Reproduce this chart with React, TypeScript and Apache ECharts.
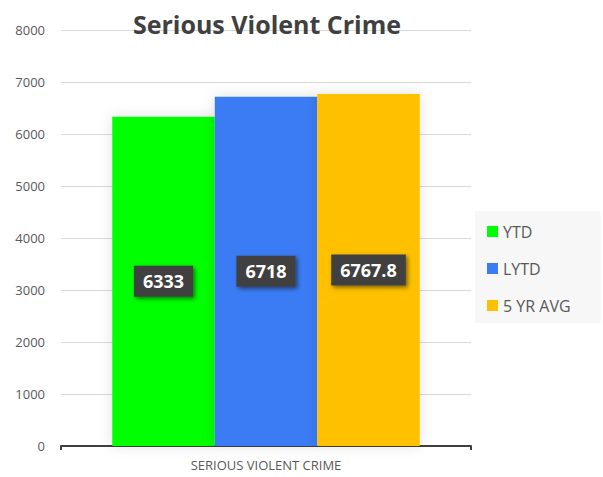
import React, { useEffect, useRef } from "react";
import * as echarts from "echarts";

const categories = ["SERIOUS VIOLENT CRIME"];
const seriesNames = ["YTD", "LYTD", "5 YR AVG"];
const ytd = [6333];
const lytd = [6718];
const avg5 = [6767.8];
const colors = ["#00ff00", "#3b7cf4", "#ffc000"];
const yTicks = [0, 1000, 2000, 3000, 4000, 5000, 6000, 7000, 8000];

export default function App() {
  const ref = useRef<HTMLDivElement>(null);
  useEffect(() => {
    const chart = echarts.init(ref.current!, null, { renderer: "svg" });
    const values = [ytd, lytd, avg5];
    const label = {
      show: true,
      position: "inside",
      color: "#ffffff",
      fontFamily: "Open Sans",
      fontWeight: "bold",
      fontSize: 18,
      backgroundColor: "#404040",
      padding: [7, 9, 6, 9],
      shadowColor: "rgba(0,0,0,0.5)",
      shadowBlur: 4,
      shadowOffsetX: 2,
      shadowOffsetY: 2,
    };
    chart.setOption({
      animation: false,
      title: {
        text: "Serious Violent Crime",
        left: 262,
        textAlign: "center",
        top: 6,
        textStyle: {
          fontFamily: "Open Sans",
          fontWeight: "bold",
          fontSize: 25,
          color: "#404040",
        },
      },
      legend: {
        orient: "vertical",
        left: 475,
        top: 211,
        width: 128,
        padding: [10, 30, 7, 12],
        itemGap: 16,
        itemWidth: 11,
        itemHeight: 11,
        icon: "rect",
        backgroundColor: "#f7f7f7",
        textStyle: { fontFamily: "Open Sans", fontSize: 16, color: "#595959", lineHeight: 21 },
        data: seriesNames,
      },
      grid: { left: 61, right: 132, top: 30, bottom: 31 },
      xAxis: {
        type: "category",
        data: categories,
        axisLine: { lineStyle: { color: "#404040", width: 2 } },
        axisTick: { show: true, alignWithLabel: false, length: 4, lineStyle: { color: "#404040", width: 2 } },
        axisLabel: { fontFamily: "Open Sans", fontSize: 13, color: "#595959", margin: 12 },
      },
      yAxis: {
        type: "value",
        min: yTicks[0],
        max: yTicks[yTicks.length - 1],
        interval: 1000,
        axisLine: { show: false },
        axisTick: { show: false },
        axisLabel: {
          fontFamily: "Open Sans",
          fontSize: 13,
          color: "#595959",
          margin: 16,
          formatter: (v: number) => String(v),
        },
        splitLine: { lineStyle: { color: "#d9d9d9", width: 1 } },
      },
      series: seriesNames.map((n, i) => ({
        name: n,
        type: "bar",
        data: values[i],
        barGap: "0%",
        barCategoryGap: "25%",
        itemStyle: {
          color: colors[i],
          shadowColor: "rgba(0,0,0,0.12)",
          shadowBlur: 14,
        },
        label,
      })),
    });
    return () => chart.dispose();
  }, []);
  return <div ref={ref} style={{ width: 603, height: 477, position: "absolute", left: 0, top: 0 }} />;
}
